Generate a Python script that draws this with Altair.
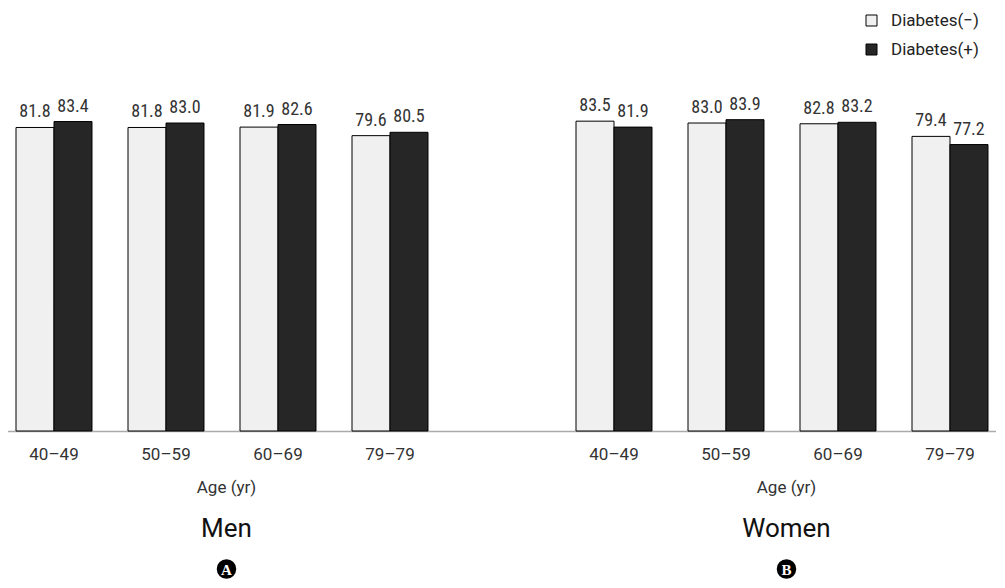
import altair as alt
import pandas as pd

sexes = ["Men", "Women"]
ages = ["40–49", "50–59", "60–69", "79–79"]
groups = ["Diabetes(−)", "Diabetes(+)"]
men_neg = [81.8, 81.8, 81.9, 79.6]
men_pos = [83.4, 83.0, 82.6, 80.5]
women_neg = [83.5, 83.0, 82.8, 79.4]
women_pos = [81.9, 83.9, 83.2, 77.2]
letters = ["A", "B"]

values = {("Men", groups[0]): men_neg, ("Men", groups[1]): men_pos,
          ("Women", groups[0]): women_neg, ("Women", groups[1]): women_pos}

rows = []
for (sex, grp), vals in values.items():
    for age, v in zip(ages, vals):
        rows.append({"slot": f"{sex}|{age}", "dia": grp, "value": v})
df = pd.DataFrame(rows)

slots = [f"Men|{a}" for a in ages] + ["gap"] + [f"Women|{a}" for a in ages]

ann = pd.DataFrame({"slot": [f"{s}|{ages[2]}" for s in sexes],
                    "title": sexes, "letter": letters})

x_enc = alt.X("slot:N",
              scale=alt.Scale(domain=slots, paddingInner=0, paddingOuter=0),
              axis=alt.Axis(title=None, ticks=False, labelAngle=0,
                            labelExpr="indexof(datum.value,'|')>=0 ? split(datum.value,'|')[1] : ''",
                            labelPadding=15, labelFontSize=17, labelFont="Roboto",
                            labelColor="#333333", domainColor="#aaaaaa", domainWidth=1.5))
xo_enc = alt.XOffset("dia:N", scale=alt.Scale(domain=groups, paddingInner=0, paddingOuter=0.4737))
y_enc = alt.Y("value:Q", scale=alt.Scale(domain=[0, 114]), axis=None)

bars = alt.Chart(df).mark_bar(stroke="black", strokeWidth=1).encode(
    x=x_enc, xOffset=xo_enc, y=y_enc,
    color=alt.Color("dia:N",
                    scale=alt.Scale(domain=groups, range=["#f0f0f0", "#262626"]),
                    legend=alt.Legend(title=None, orient="none", legendX=865, legendY=4,
                                      labelFont="Roboto", labelFontSize=17, labelColor="#222222",
                                      symbolType="square", symbolSize=121,
                                      symbolStrokeColor="black", symbolStrokeWidth=1,
                                      rowPadding=11, labelOffset=11, padding=0)))

labels = alt.Chart(df).mark_text(font="Liberation Sans Narrow, Roboto Condensed, Roboto",
                                 fontSize=18, baseline="alphabetic", dy=-10,
                                 color="#333333").encode(
    x=x_enc, xOffset=xo_enc, y=y_enc, text=alt.Text("value:Q", format=".1f"))

ax_pos = alt.X("slot:N", bandPosition=0.04)

age_title = alt.Chart(ann).mark_text(font="Roboto", fontSize=17, color="#333333",
                                     baseline="alphabetic").encode(
    x=ax_pos, y=alt.value(485), text=alt.value("Age (yr)"))

sex_title = alt.Chart(ann).mark_text(font="Roboto", fontSize=26, color="#111111",
                                     baseline="alphabetic").encode(
    x=ax_pos, y=alt.value(529), text="title:N")

circ = alt.Chart(ann).mark_circle(size=380, color="black", opacity=1).encode(
    x=ax_pos, y=alt.value(561))

letter = alt.Chart(ann).mark_text(font="Liberation Serif", fontSize=15, fontWeight="bold",
                                  color="white", baseline="middle", dy=1).encode(
    x=ax_pos, y=alt.value(561), text="letter:N")

chart = alt.layer(bars, labels, age_title, sex_title, circ, letter).properties(
    width=1008, height=423,
    padding={"left": -10, "top": 0, "right": -10, "bottom": 0},
).configure_view(stroke=None)

chart.save("out.html", embed_options={"renderer": "svg", "actions": False})
